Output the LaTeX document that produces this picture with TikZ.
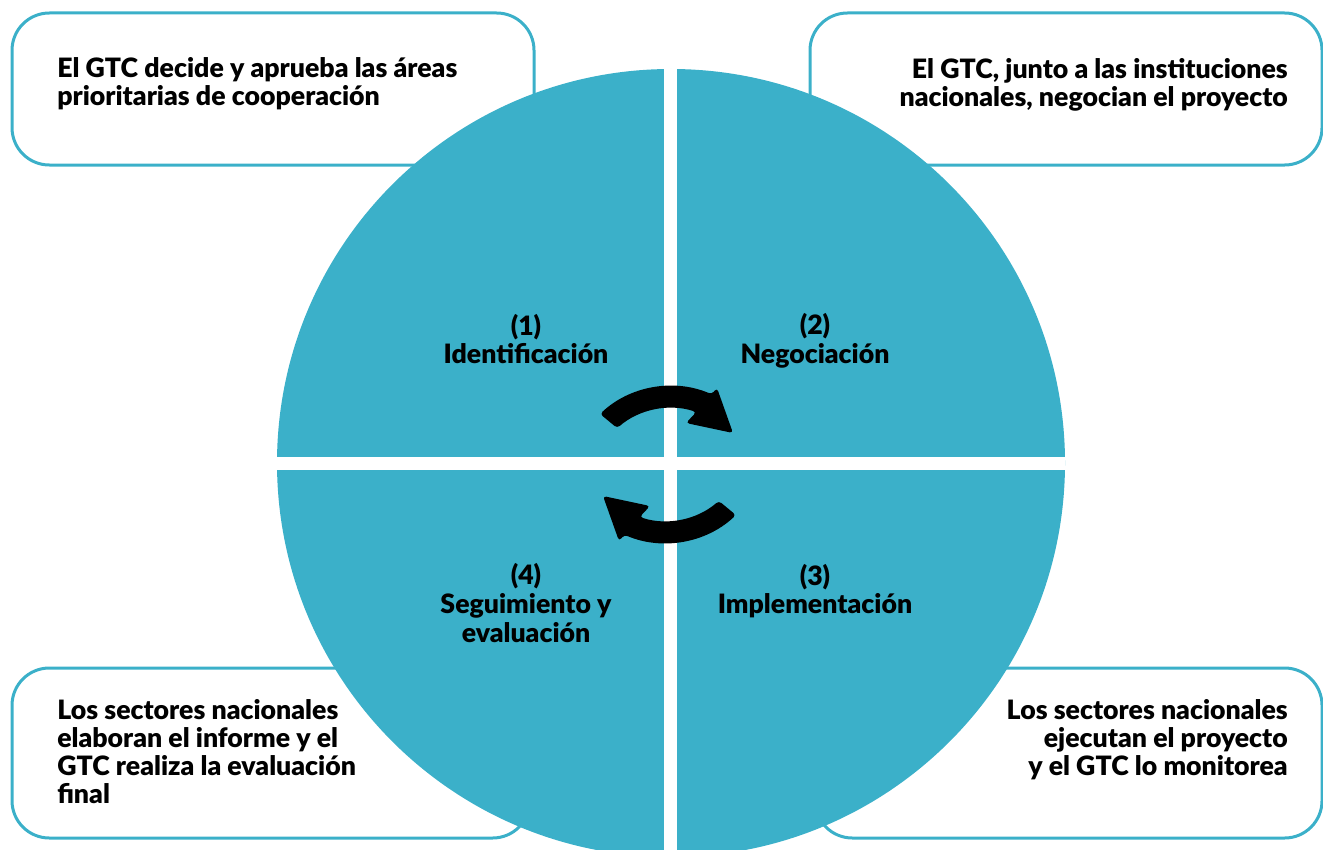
\documentclass[tikz,border=0pt]{standalone}
\usepackage{fontspec}
\setmainfont{Lato}[BoldFont={Lato Black}]
\usetikzlibrary{calc}
\definecolor{tealc}{HTML}{3BB0C9}
\begin{document}
\begin{tikzpicture}[x=0.75pt,y=-0.75pt,
  infobox/.style={draw=tealc, line width=2.25pt, rounded corners=28pt},
  boxtext/.style={font=\fontsize{20}{21}\selectfont\bfseries, inner sep=0pt},
  steplabel/.style={font=\fontsize{20}{21.5}\selectfont\bfseries, inner sep=0pt, align=center},
  cyclearrow/.style={fill=black, rounded corners=2.5pt}]
\useasboundingbox (0,0) rectangle (1323,849);
% boxes
\draw[infobox] (12,13) rectangle (534,165);
\draw[infobox] (810,13) rectangle (1322,165);
\draw[infobox] (12,668) rectangle (530,838);
\draw[infobox] (815,668) rectangle (1322,838);
% circle
\coordinate (c) at (671,463);
\fill[tealc] (c) circle[radius=394];
\begin{scope}
  \clip (c) circle[radius=394];
  \fill[white] (664,0) rectangle (677,900);
  \fill[white] (0,457) rectangle (1400,470);
\end{scope}
% box texts
\node[boxtext, anchor=west, align=left] (t1) at (57,84) {El GTC decide y aprueba las áreas\\prioritarias de cooperación};
\node[boxtext, anchor=east, align=right] (t2) at (1288,85) {El GTC, junto a las instituciones\\nacionales, negocian el proyecto};
\node[boxtext, anchor=west, align=left] (t3) at (57,752) {Los sectores nacionales\\elaboran el informe y el\\GTC realiza la evaluación\\final};
\node[boxtext, anchor=east, align=right] (t4) at (1288,740) {Los sectores nacionales\\ejecutan el proyecto\\y el GTC lo monitorea};
% step labels
\node[steplabel] (s1) at (526,339) {(1)\\Identificación};
\node[steplabel] (s2) at (815,341) {(2)\\Negociación};
\node[steplabel] (s3) at (815,591) {(3)\\Implementación};
\node[steplabel] (s4) at (526,603) {(4)\\Seguimiento y\\evaluación};
% arrows
\coordinate (ac) at (671,490);
\coordinate (bc) at (665,439);
\fill[cyclearrow] ($(ac)+(227:104)$) arc[start angle=227, end angle=293, radius=104]
  -- (717,388) -- (733,433) -- (686,423)
  -- ($(ac)+(288:82)$) arc[start angle=288, end angle=229, radius=82] -- cycle;
\fill[cyclearrow] ($(bc)+(47:104)$) arc[start angle=47, end angle=113, radius=104]
  -- (619,541) -- (603,496) -- (650,506)
  -- ($(bc)+(108:82)$) arc[start angle=108, end angle=49, radius=82] -- cycle;
\end{tikzpicture}
\end{document}
